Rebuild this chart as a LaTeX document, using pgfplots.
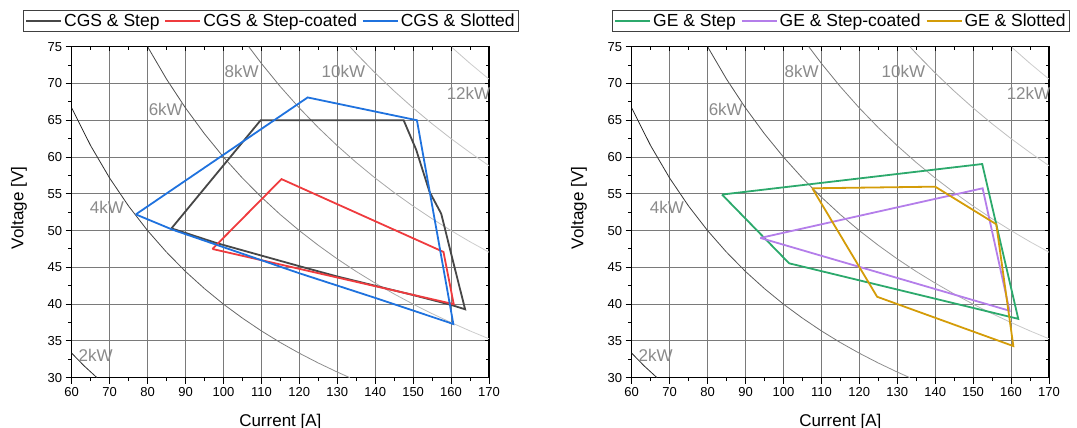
\documentclass[border=0pt]{standalone}
\usepackage{fontspec}
\setmainfont{Liberation Sans}
\usepackage{pgfplots}
\pgfplotsset{compat=1.18}

\definecolor{cStep}{HTML}{474747}
\definecolor{cCoated}{HTML}{EF3B3E}
\definecolor{cSlotted}{HTML}{1F72DE}
\definecolor{gStep}{HTML}{2CA96C}
\definecolor{gCoated}{HTML}{B47EEA}
\definecolor{gSlotted}{HTML}{D49C08}
\definecolor{kwtext}{HTML}{8A8A8A}

\pgfplotsset{
  vi frame/.style={
    scale only axis, width=417.3pt, height=331pt,
    xmin=60, xmax=170, ymin=30, ymax=75,
    xtick={60,70,...,170}, ytick={30,35,...,75},
    minor x tick num=1, minor y tick num=1,
  },
  vi main/.style={
    vi frame,
    tick pos=left, tick align=outside,
    major tick length=6pt, minor tick length=3.5pt,
    every tick/.style={black, line width=1pt},
    grid=major, grid style={line width=1pt, color=black!52},
    axis line style={line width=1.3pt, black},
    tick label style={font=\fontsize{13}{15}\selectfont},
    /pgf/number format/assume math mode=true,
    xlabel={Current [A]}, ylabel={Voltage [V]},
    label style={font=\fontsize{17}{19}\selectfont},
    xlabel style={at={(axis description cs:0.5,-0.146)}, anchor=base},
    ylabel style={at={(axis description cs:-0.1263,0.513)}, anchor=center},
    clip mode=individual,
    point meta min=60, point meta max=170,
    colormap={kwfade}{color=(black!85) color=(black!18)},
    legend columns=3,
    legend style={
      font=\fontsize{17.5}{19}\selectfont,
      draw=black!75, line width=0.8pt,
      inner xsep=1.5pt, inner ysep=1.5pt,
      /tikz/every even column/.append style={column sep=3pt},
      /tikz/every odd column/.append style={column sep=0pt},
      cells={anchor=west},
    },
    legend image code/.code={\draw[line width=1.8pt, #1] (0pt,0pt) -- (35pt,0pt);},
  },
  vi inner ticks/.style={
    vi frame,
    tick pos=right, tick align=inside,
    major tick length=4pt, minor tick length=3.5pt,
    every tick/.style={black, line width=1pt},
    xticklabels={}, yticklabels={},
    axis line style={draw=none},
  },
}

% constant-power curves V = P / I and their labels
\newcommand{\powerlines}{%
  \addplot[mesh, point meta=x, line width=0.8pt, forget plot] coordinates {
    (60,33.33) (63.33,31.58) (66.67,30)};
  \addplot[mesh, point meta=x, line width=0.8pt, forget plot] coordinates {
    (60,66.67) (65,61.54) (70,57.14) (75,53.33) (80,50) (85,47.06)
    (90,44.44) (95,42.11) (100,40) (105,38.10) (110,36.36) (115,34.78)
    (120,33.33) (125,32) (130,30.77) (133.33,30)};
  \addplot[mesh, point meta=x, line width=0.8pt, forget plot] coordinates {
    (80,75) (85,70.59) (90,66.67) (95,63.16) (100,60) (105,57.14)
    (110,54.55) (115,52.17) (120,50) (125,48) (130,46.15) (135,44.44)
    (140,42.86) (145,41.38) (150,40) (155,38.71) (160,37.5) (165,36.36)
    (170,35.29)};
  \addplot[mesh, point meta=x, line width=0.8pt, forget plot] coordinates {
    (106.67,75) (110,72.73) (115,69.57) (120,66.67) (125,64) (130,61.54)
    (135,59.26) (140,57.14) (145,55.17) (150,53.33) (155,51.61) (160,50)
    (165,48.48) (170,47.06)};
  \addplot[mesh, point meta=x, line width=0.8pt, forget plot] coordinates {
    (133.33,75) (135,74.07) (140,71.43) (145,68.97) (150,66.67)
    (155,64.52) (160,62.5) (165,60.61) (170,58.82)};
  \addplot[mesh, point meta=x, line width=0.8pt, forget plot] coordinates {
    (160,75) (165,72.73) (170,70.59)};
  \begin{scope}[every node/.style={text=kwtext, font=\fontsize{17}{19}\selectfont, inner sep=0pt}]
    \node at (axis cs:66.3,33.1) {2kW};
    \node at (axis cs:69.3,53.1) {4kW};
    \node at (axis cs:84.8,66.5) {6kW};
    \node at (axis cs:104.8,71.7) {8kW};
    \node at (axis cs:131.6,71.7) {10kW};
    \node at (axis cs:164.6,68.7) {12kW};
  \end{scope}
}

\begin{document}
\begin{tikzpicture}
% ---------------- CGS windings ----------------
\begin{axis}[vi main, at={(71.7pt,50.3pt)}, anchor=south west,
  legend style={at={(axis description cs:0.4776,1.111)}, anchor=north}]
  \powerlines
  \addplot[color=cStep, line width=1.8pt] coordinates {
    (86.3,50.3) (109.8,65.0) (147.5,65.0) (150.8,61.0) (154.3,55.3)
    (157.4,52.3) (160.0,46.9) (163.7,39.3) (160.0,39.9) (149.9,41.25)
    (140.0,42.5) (129.7,43.8) (120.1,45.15) (98.2,48.3) (86.3,50.3)};
  \addplot[color=cCoated, line width=1.8pt] coordinates {
    (97.1,47.5) (115.3,57.0) (158.0,47.1) (160.7,40.0) (97.1,47.5)};
  \addplot[color=cSlotted, line width=1.8pt] coordinates {
    (76.9,52.2) (122.2,68.1) (151.0,65.0) (160.6,37.3) (140.0,40.85)
    (120.0,44.2) (86.7,50.1) (76.9,52.2)};
  \legend{CGS \& Step, CGS \& Step-coated, CGS \& Slotted}
\end{axis}
\begin{axis}[vi inner ticks, at={(71.7pt,50.3pt)}, anchor=south west]
\end{axis}

% ---------------- GE windings ----------------
\begin{axis}[vi main, at={(631.7pt,50.3pt)}, anchor=south west,
  legend style={at={(axis description cs:0.5016,1.111)}, anchor=north}]
  \powerlines
  \addplot[color=gStep, line width=1.8pt] coordinates {
    (83.8,54.9) (152.4,59.05) (161.9,38.0) (101.5,45.55) (83.8,54.9)};
  \addplot[color=gCoated, line width=1.8pt] coordinates {
    (93.9,49.0) (152.5,55.75) (159.6,39.1) (93.9,49.0)};
  \addplot[color=gSlotted, line width=1.8pt] coordinates {
    (107.6,55.75) (140.0,55.97) (156.1,50.86) (160.6,34.3) (124.7,41.0)
    (107.6,55.75)};
  \legend{GE \& Step, GE \& Step-coated, GE \& Slotted}
\end{axis}
\begin{axis}[vi inner ticks, at={(631.7pt,50.3pt)}, anchor=south west]
\end{axis}

\pgfresetboundingbox
\path[use as bounding box] (0pt,0pt) rectangle (1077pt,428pt);
\end{tikzpicture}
\end{document}
